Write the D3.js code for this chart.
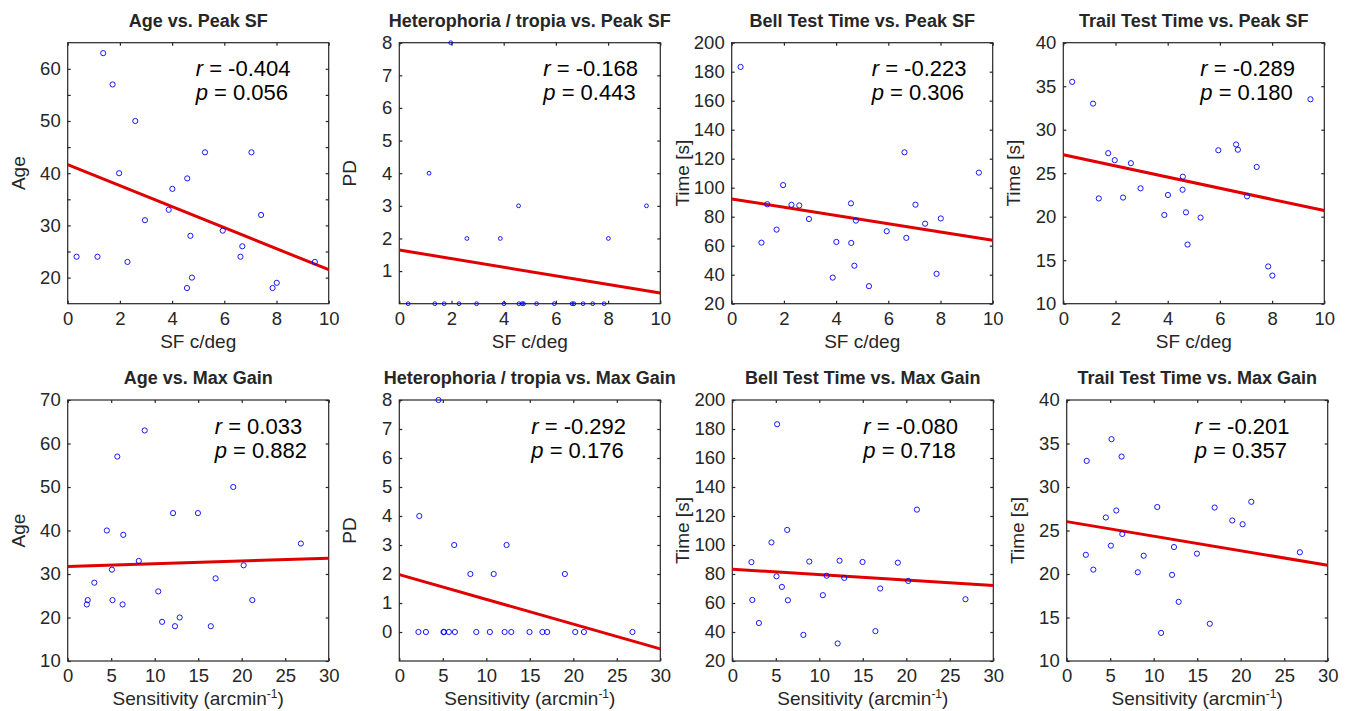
<!DOCTYPE html>
<html>
<head>
<meta charset="utf-8">
<script src="https://cdn.jsdelivr.net/npm/d3@7"></script>
<style>
body { margin: 0; background: #fff; }
text { font-family: "Liberation Sans", Arial, Helvetica, sans-serif; }
</style>
</head>
<body>
<svg id="chart"></svg>
<script>
var screen = {width: 1345, height: 711};

// one entry per subject (23)
var peakSF    = [0.34, 1.14, 1.36, 1.72, 1.97, 2.29, 2.59, 2.96, 3.87, 4.01, 4.58, 4.57, 4.70, 4.76, 5.26, 5.94, 6.62, 6.69, 7.04, 7.41, 7.85, 8.01, 9.47];
var maxGain   = [5.15, 2.30, 8.85, 5.70, 4.50, 2.20, 19.03, 5.08, 8.17, 26.80, 6.39, 12.33, 3.06, 12.87, 12.11, 17.00, 21.22, 10.41, 14.97, 20.22, 16.45, 10.85, 6.31];
var age       = [24, 24, 63, 57, 40, 23, 50, 31, 33, 37, 39, 18, 28, 20, 44, 29, 24, 26, 44, 32, 18, 19, 23];
var pd        = [0, 4, 0, 0, 8, 0, 2, 0, 2, 0, 0, 3, 0, 0, 0, 0, 0, 0, 0, 0, 0, 2, 3];
var bellTime  = [183.3, 62.1, 88.6, 71.1, 101.8, 88.2, 87.8, 78.4, 38.0, 62.6, 61.9, 89.2, 46.2, 77.3, 32.1, 70.0, 124.4, 65.4, 88.3, 75.2, 40.6, 78.8, 110.4];
var trailTime = [35.5, 33.0, 22.1, 27.3, 26.5, 22.2, 26.15, 23.26, 20.2, 22.5, 24.6, 23.1, 20.5, 16.8, 19.9, 27.64, 28.3, 27.7, 22.34, 25.72, 14.28, 13.23, 33.5];

var titles = ["Age vs. Peak SF", "Heterophoria / tropia vs. Peak SF", "Bell Test Time vs. Peak SF", "Trail Test Time vs. Peak SF",
              "Age vs. Max Gain", "Heterophoria / tropia vs. Max Gain", "Bell Test Time vs. Max Gain", "Trail Test Time vs. Max Gain"];
var yNames = ["Age", "PD", "Time [s]", "Time [s]", "Age", "PD", "Time [s]", "Time [s]"];
var rVals = ["-0.404", "-0.168", "-0.223", "-0.289", "0.033", "-0.292", "-0.080", "-0.201"];
var pVals = ["0.056", "0.443", "0.306", "0.180", "0.882", "0.176", "0.718", "0.357"];

var yDomains = [[15, 65], [0, 8], [20, 200], [10, 40], [10, 70], [-1, 8], [20, 200], [10, 40]];
var yTickVals = [[20, 25, 30, 35, 40, 45, 50, 55, 60], [1, 2, 3, 4, 5, 6, 7, 8], d3.range(20, 201, 20), d3.range(10, 41, 5),
                 d3.range(10, 71, 10), d3.range(0, 9, 1), d3.range(20, 201, 20), d3.range(10, 41, 5)];
var yTickLabels = [[20, 30, 40, 50, 60], [1, 2, 3, 4, 5, 6, 7, 8], d3.range(20, 201, 20), d3.range(10, 41, 5),
                   d3.range(10, 71, 10), d3.range(0, 9, 1), d3.range(20, 201, 20), d3.range(10, 41, 5)];
var sfTicks = [0, 2, 4, 6, 8, 10];
var gainTicks = [0, 5, 10, 15, 20, 25, 30];

var ySeries = [age, pd, bellTime, trailTime];

// layout
var lefts = [[67.7, 399.3, 731.7, 1063.3], [67.7, 399.3, 732.3, 1066.7]];
var tops = [42.7, 400];
var w = 261, h = 261;
var statX = [128, 144, 140, 137, 147, 132, 131, 128];
var ink = "#262626";

var svg = d3.select("#chart").attr("width", screen.width).attr("height", screen.height);

var fit = function(xs, ys)
{
    var mx = d3.mean(xs), my = d3.mean(ys);
    var sxy = d3.sum(xs, function(d, i){ return (d - mx) * (ys[i] - my); });
    var sxx = d3.sum(xs, function(d){ return (d - mx) * (d - mx); });
    var b = sxy / sxx;
    return {a: my - b * mx, b: b};
};

var drawPanel = function(k)
{
    var row = Math.floor(k / 4), col = k % 4;
    var xs = row == 0 ? peakSF : maxGain;
    var ys = ySeries[col];
    var xDom = row == 0 ? [0, 10] : [0, 30];
    var xTicks = row == 0 ? sfTicks : gainTicks;

    var xScale = d3.scaleLinear().domain(xDom).range([0, w]);
    var yScale = d3.scaleLinear().domain(yDomains[k]).range([h, 0]);

    var g = svg.append("g")
        .attr("transform", "translate(" + lefts[row][col] + "," + tops[row] + ")");

    g.append("rect").attr("width", w).attr("height", h)
        .attr("fill", "#fff").attr("stroke", ink).attr("stroke-width", 1.2);

    var labels = yTickLabels[k];
    var axes = [
        {ax: d3.axisBottom(xScale).tickValues(xTicks).tickSize(-3).tickPadding(8), t: "translate(0," + h + ")"},
        {ax: d3.axisTop(xScale).tickValues(xTicks).tickSize(-3).tickFormat(""), t: "translate(0,0)"},
        {ax: d3.axisLeft(yScale).tickValues(yTickVals[k]).tickSize(-3).tickPadding(7)
                .tickFormat(function(d){ return labels.indexOf(d) >= 0 ? d : ""; }), t: "translate(0,0)"},
        {ax: d3.axisRight(yScale).tickValues(yTickVals[k]).tickSize(-3).tickFormat(""), t: "translate(" + w + ",0)"}
    ];
    axes.forEach(function(a)
    {
        var ag = g.append("g").attr("transform", a.t).call(a.ax.tickSizeOuter(0));
        ag.select(".domain").remove();
        ag.selectAll("line").attr("stroke", ink).attr("stroke-width", 1.2);
        ag.selectAll("text").attr("fill", ink).style("font-size", "18.5px")
            .style("font-family", "'Liberation Sans', Arial, Helvetica, sans-serif");
    });

    // regression line
    var f = fit(xs, ys);
    g.append("line")
        .attr("x1", xScale(xDom[0])).attr("y1", yScale(f.a + f.b * xDom[0]))
        .attr("x2", xScale(xDom[1])).attr("y2", yScale(f.a + f.b * xDom[1]))
        .attr("stroke", "#e00000").attr("stroke-width", 3);

    g.selectAll("circle.pt")
        .data(xs)
        .enter()
        .append("circle")
        .attr("class", "pt")
        .attr("cx", function(d){ return xScale(d); })
        .attr("cy", function(d, i){ return yScale(ys[i]); })
        .attr("r", k == 1 ? 1.9 : 2.6)
        .attr("fill", "none")
        .attr("stroke", "#0000ff")
        .attr("stroke-width", 0.9);

    // stats
    var st = g.append("g").attr("transform", "translate(" + statX[k] + ",0)")
        .style("font-size", "22px").attr("fill", "#000");
    var t1 = st.append("text").attr("y", 33.5);
    t1.append("tspan").style("font-style", "italic").text("r");
    t1.append("tspan").text(" = " + rVals[k]);
    var t2 = st.append("text").attr("y", 57.5);
    t2.append("tspan").style("font-style", "italic").text("p");
    t2.append("tspan").text(" = " + pVals[k]);

    // title
    g.append("text").attr("x", w / 2).attr("y", -16)
        .attr("text-anchor", "middle").attr("fill", ink)
        .style("font-size", "18px").style("font-weight", "bold")
        .text(titles[k]);

    // x label
    var xl = g.append("text").attr("x", w / 2).attr("y", h + 44)
        .attr("text-anchor", "middle").attr("fill", ink).style("font-size", "19px");
    if (row == 0)
    {
        xl.text("SF c/deg");
    }
    else
    {
        xl.append("tspan").text("Sensitivity (arcmin");
        xl.append("tspan").attr("dy", -7).style("font-size", "12px").text("-1");
        xl.append("tspan").attr("dy", 7).text(")");
    }

    // y label
    g.append("text")
        .attr("transform", "translate(" + (-43) + "," + (h / 2) + ") rotate(-90)")
        .attr("text-anchor", "middle").attr("fill", ink).style("font-size", "19px")
        .text(yNames[k]);
};

d3.range(8).forEach(drawPanel);
</script>
</body>
</html>
